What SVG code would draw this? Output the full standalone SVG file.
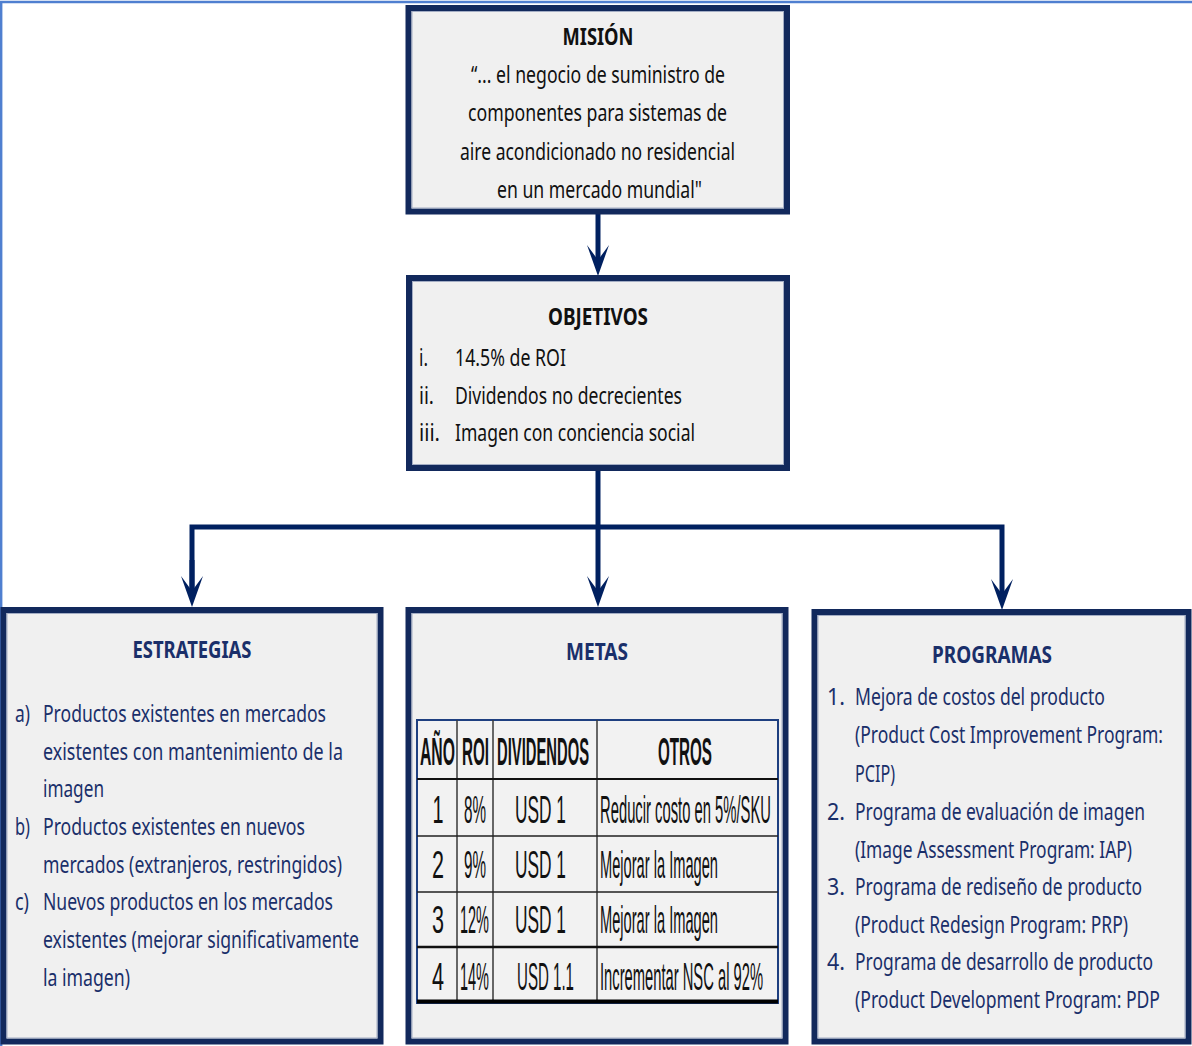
<svg xmlns="http://www.w3.org/2000/svg" width="1192" height="1046" viewBox="0 0 1192 1046">
  <style>
    .box { fill: #f0f0f0; stroke: #12295c; stroke-width: 6; }
    .edge { fill: none; stroke: #a3adc4; stroke-width: 1; }
    .wire { fill: none; stroke: #002060; stroke-width: 5; }
    .t { font-family: "Noto Sans", "Open Sans", "Liberation Sans", sans-serif; font-size: 24px; }
    .b { font-weight: bold; }
    .k { fill: #111111; }
    .n { fill: #1a2f6a; }
    .mid { text-anchor: middle; }
    .tb { font-family: "Liberation Sans", Arial, sans-serif; font-size: 39px; fill: #111111; }
    .grid { stroke: #3a3a3a; stroke-width: 1.5; fill: none; }
  </style>
  <defs>
    <marker id="head" viewBox="-16 -12 33 24" markerWidth="33" markerHeight="24" refX="0" refY="0" orient="auto" markerUnits="userSpaceOnUse" overflow="visible">
      <path d="M16,0 L-15,-11 L0,0 L-15,11 Z" fill="#002060"/>
    </marker>
  </defs>

  <rect width="1192" height="1046" fill="#ffffff"/>
  <!-- slide frame -->
  <path d="M1.2,1046 V2 H1192" fill="none" stroke="#4f7fd0" stroke-width="2.4"/>

  <!-- connectors -->
  <g id="connectors">
    <line class="wire" x1="598" y1="214" x2="598" y2="260" marker-end="url(#head)"/>
    <line class="wire" x1="598" y1="470" x2="598" y2="591" marker-end="url(#head)"/>
    <polyline class="wire" points="192,591 192,527 1002,527 1002,594" marker-end="url(#head)"/>
    <line x1="192" y1="560" x2="192" y2="591" class="wire" marker-end="url(#head)"/>
  </g>

  <!-- MISIÓN (text set in a horizontally condensed frame) -->
  <g id="mision">
    <rect class="box" x="408.5" y="8" width="378.5" height="203.5"/>
    <rect class="edge" x="412" y="11.5" width="371.5" height="196.5"/>
    <g transform="scale(0.75,1)">
      <text class="t b k mid" x="797.33" y="45" textLength="94.67" lengthAdjust="spacingAndGlyphs">MISIÓN</text>
      <text class="t k mid" x="797.33" y="83" textLength="338.67" lengthAdjust="spacingAndGlyphs">“... el negocio de suministro de</text>
      <text class="t k mid" x="796.67" y="121" textLength="345.33" lengthAdjust="spacingAndGlyphs">componentes para sistemas de</text>
      <text class="t k mid" x="796.67" y="160" textLength="366.67" lengthAdjust="spacingAndGlyphs">aire acondicionado no residencial</text>
      <text class="t k mid" x="799.33" y="198" textLength="273.33" lengthAdjust="spacingAndGlyphs">en un mercado mundial"</text>
    </g>
  </g>

  <!-- OBJETIVOS -->
  <g id="objetivos">
    <rect class="box" x="409" y="278" width="378" height="190"/>
    <rect class="edge" x="412.5" y="281.5" width="371" height="183"/>
    <g transform="scale(0.75,1)">
      <text class="t b k mid" x="797.33" y="325" textLength="133.33" lengthAdjust="spacingAndGlyphs">OBJETIVOS</text>
      <text class="t k" x="558.67" y="366" textLength="12" lengthAdjust="spacingAndGlyphs">i.</text>
      <text class="t k" x="606.67" y="366" textLength="148" lengthAdjust="spacingAndGlyphs">14.5% de ROI</text>
      <text class="t k" x="558.67" y="404" textLength="20" lengthAdjust="spacingAndGlyphs">ii.</text>
      <text class="t k" x="606.67" y="404" textLength="302.67" lengthAdjust="spacingAndGlyphs">Dividendos no decrecientes</text>
      <text class="t k" x="558.67" y="441" textLength="28" lengthAdjust="spacingAndGlyphs">iii.</text>
      <text class="t k" x="606.67" y="441" textLength="320" lengthAdjust="spacingAndGlyphs">Imagen con conciencia social</text>
    </g>
  </g>

  <!-- ESTRATEGIAS -->
  <g id="estrategias">
    <rect class="box" x="3.5" y="610" width="377" height="431.5"/>
    <rect class="edge" x="7" y="613.5" width="370" height="424.5"/>
    <g transform="scale(0.75,1)">
      <text class="t b n mid" x="256" y="658" textLength="158.67" lengthAdjust="spacingAndGlyphs">ESTRATEGIAS</text>
      <text class="t n" x="20" y="722" textLength="20" lengthAdjust="spacingAndGlyphs">a)</text>
      <text class="t n" x="57.33" y="722" textLength="377.33" lengthAdjust="spacingAndGlyphs">Productos existentes en mercados</text>
      <text class="t n" x="57.33" y="760" textLength="400" lengthAdjust="spacingAndGlyphs">existentes con  mantenimiento de la</text>
      <text class="t n" x="57.33" y="797" textLength="81.33" lengthAdjust="spacingAndGlyphs">imagen</text>
      <text class="t n" x="20" y="835" textLength="20" lengthAdjust="spacingAndGlyphs">b)</text>
      <text class="t n" x="57.33" y="835" textLength="349.33" lengthAdjust="spacingAndGlyphs">Productos existentes en nuevos</text>
      <text class="t n" x="57.33" y="873" textLength="398.67" lengthAdjust="spacingAndGlyphs">mercados (extranjeros, restringidos)</text>
      <text class="t n" x="20" y="910" textLength="18.67" lengthAdjust="spacingAndGlyphs">c)</text>
      <text class="t n" x="57.33" y="910" textLength="386.67" lengthAdjust="spacingAndGlyphs">Nuevos productos en los mercados</text>
      <text class="t n" x="57.33" y="948" textLength="421.33" lengthAdjust="spacingAndGlyphs">existentes (mejorar significativamente</text>
      <text class="t n" x="57.33" y="986" textLength="116" lengthAdjust="spacingAndGlyphs">la imagen)</text>
    </g>
  </g>

  <!-- METAS -->
  <g id="metas">
    <rect class="box" x="408.5" y="610" width="377" height="431.5"/>
    <rect class="edge" x="412" y="613.5" width="370" height="424.5"/>
    <text class="t b n mid" x="796" y="660" transform="scale(0.75,1)" textLength="82.67" lengthAdjust="spacingAndGlyphs">METAS</text>

    <g id="metas-table">
      <rect x="417" y="720" width="361" height="283" fill="#f2f2f2" stroke="#1e3f80" stroke-width="2"/>
      <path class="grid" d="M457,720 V1002 M493,720 V1002 M597,720 V1002"/>
      <path d="M417,779 H778" stroke="#111" stroke-width="2"/>
      <path d="M417,836 H778 M417,892 H778" stroke="#222" stroke-width="1.5"/>
      <path d="M417,947 H778" stroke="#111" stroke-width="2.5"/>
      <path d="M417,1001.5 H778" stroke="#000" stroke-width="4"/>

      <!-- narrow table lettering -->
      <g transform="scale(0.4,1)">
        <text class="tb b mid" x="1093.75" y="765" textLength="87.5" lengthAdjust="spacingAndGlyphs">AÑO</text>
        <text class="tb b mid" x="1188.75" y="765" textLength="67.5" lengthAdjust="spacingAndGlyphs">ROI</text>
        <text class="tb b mid" x="1357.5" y="765" textLength="230" lengthAdjust="spacingAndGlyphs">DIVIDENDOS</text>
        <text class="tb b mid" x="1712.5" y="765" textLength="135" lengthAdjust="spacingAndGlyphs">OTROS</text>

        <text class="tb mid" x="1095" y="823" textLength="27.5" lengthAdjust="spacingAndGlyphs">1</text>
        <text class="tb mid" x="1187.5" y="823" textLength="55" lengthAdjust="spacingAndGlyphs">8%</text>
        <text class="tb mid" x="1351.25" y="823" textLength="127.5" lengthAdjust="spacingAndGlyphs">USD 1</text>
        <text class="tb" x="1500" y="823" textLength="427.5" lengthAdjust="spacingAndGlyphs">Reducir costo en 5%/SKU</text>

        <text class="tb mid" x="1095" y="878" textLength="30" lengthAdjust="spacingAndGlyphs">2</text>
        <text class="tb mid" x="1187.5" y="878" textLength="55" lengthAdjust="spacingAndGlyphs">9%</text>
        <text class="tb mid" x="1351.25" y="878" textLength="127.5" lengthAdjust="spacingAndGlyphs">USD 1</text>
        <text class="tb" x="1500" y="878" textLength="295" lengthAdjust="spacingAndGlyphs">Mejorar la Imagen</text>

        <text class="tb mid" x="1095" y="933" textLength="30" lengthAdjust="spacingAndGlyphs">3</text>
        <text class="tb mid" x="1186.25" y="933" textLength="72.5" lengthAdjust="spacingAndGlyphs">12%</text>
        <text class="tb mid" x="1351.25" y="933" textLength="127.5" lengthAdjust="spacingAndGlyphs">USD 1</text>
        <text class="tb" x="1500" y="933" textLength="295" lengthAdjust="spacingAndGlyphs">Mejorar la Imagen</text>

        <text class="tb mid" x="1095" y="990" textLength="30" lengthAdjust="spacingAndGlyphs">4</text>
        <text class="tb mid" x="1186.25" y="990" textLength="72.5" lengthAdjust="spacingAndGlyphs">14%</text>
        <text class="tb mid" x="1363.75" y="990" textLength="142.5" lengthAdjust="spacingAndGlyphs">USD 1.1</text>
        <text class="tb" x="1500" y="990" textLength="407.5" lengthAdjust="spacingAndGlyphs">Incrementar NSC al 92%</text>
      </g>
    </g>
  </g>

  <!-- PROGRAMAS -->
  <g id="programas">
    <rect class="box" x="814.5" y="612" width="374" height="429.5"/>
    <rect class="edge" x="818" y="615.5" width="367" height="422.5"/>
    <g transform="scale(0.75,1)">
      <text class="t b n mid" x="1322.67" y="663" textLength="160" lengthAdjust="spacingAndGlyphs">PROGRAMAS</text>
      <text class="t n" x="1102.67" y="705" textLength="24" lengthAdjust="spacingAndGlyphs">1.</text>
      <text class="t n" x="1140" y="705" textLength="333.33" lengthAdjust="spacingAndGlyphs">Mejora de costos del producto</text>
      <text class="t n" x="1140" y="743" textLength="410.67" lengthAdjust="spacingAndGlyphs">(Product Cost Improvement Program:</text>
      <text class="t n" x="1140" y="782" textLength="53.33" lengthAdjust="spacingAndGlyphs">PCIP)</text>
      <text class="t n" x="1102.67" y="820" textLength="24" lengthAdjust="spacingAndGlyphs">2.</text>
      <text class="t n" x="1140" y="820" textLength="386.67" lengthAdjust="spacingAndGlyphs">Programa de evaluación de imagen</text>
      <text class="t n" x="1140" y="858" textLength="369.33" lengthAdjust="spacingAndGlyphs">(Image Assessment Program: IAP)</text>
      <text class="t n" x="1102.67" y="895" textLength="24" lengthAdjust="spacingAndGlyphs">3.</text>
      <text class="t n" x="1140" y="895" textLength="382.67" lengthAdjust="spacingAndGlyphs">Programa de rediseño de producto</text>
      <text class="t n" x="1140" y="933" textLength="364" lengthAdjust="spacingAndGlyphs">(Product Redesign Program: PRP)</text>
      <text class="t n" x="1102.67" y="970" textLength="24" lengthAdjust="spacingAndGlyphs">4.</text>
      <text class="t n" x="1140" y="970" textLength="397.33" lengthAdjust="spacingAndGlyphs">Programa de desarrollo de producto</text>
      <text class="t n" x="1140" y="1008" textLength="406.67" lengthAdjust="spacingAndGlyphs">(Product Development Program: PDP</text>
    </g>
  </g>
</svg>
